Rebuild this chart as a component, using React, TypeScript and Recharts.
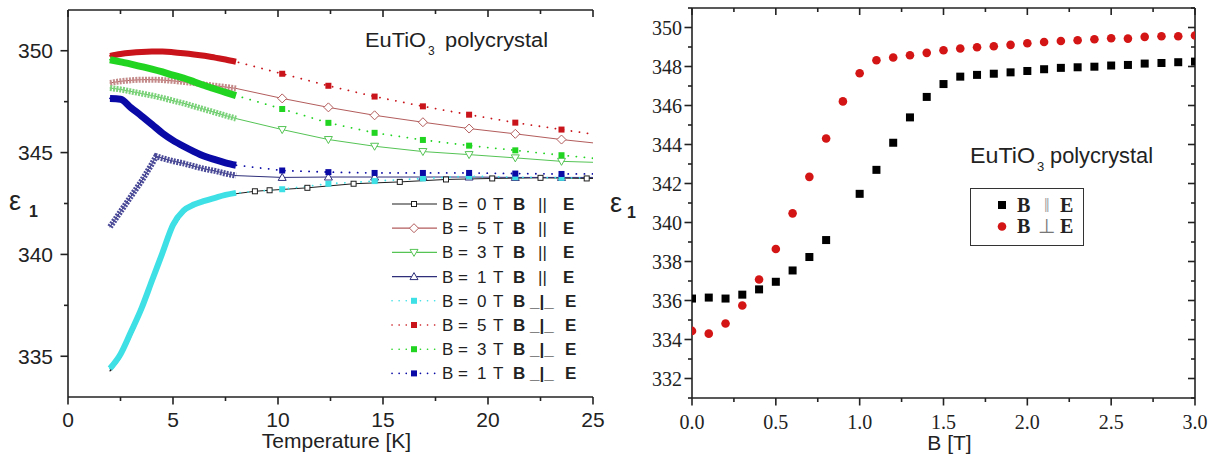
import React from 'react'
import { LineChart, Line, XAxis, YAxis, Legend } from 'recharts'

const SANS = '"Liberation Sans", Arial, sans-serif'
const SERIF = '"Liberation Serif", "Times New Roman", serif'
const INK = '#222'

/* ── left panel: eps1 vs temperature ── */
const tDense = [2, 2.5, 3, 3.5, 4, 4.5, 5, 5.5, 6, 6.5, 7, 7.5, 8]
const tDense1T = [2, 2.5, 3, 3.5, 4, 4.2, 4.5, 5, 5.5, 6, 6.5, 7, 7.5, 8]
const tSparse = [10.2, 12.4, 14.6, 16.9, 19.1, 21.3, 23.5, 25.7]
const tSparse0T = [8.9, 9.6, 11.4, 13.6, 15.8, 18.0, 20.2, 22.5, 24.7, 26.9]

// B || E
const par0Dense = [334.28, 334.95, 336.0, 337.2, 338.55, 339.95, 341.3, 342.05, 342.4, 342.6, 342.75, 342.88, 342.98]
const par0Sparse = [343.1, 343.15, 343.27, 343.47, 343.56, 343.68, 343.73, 343.76, 343.73, 343.72]
const par5Dense = [348.42, 348.5, 348.55, 348.58, 348.58, 348.56, 348.52, 348.47, 348.41, 348.34, 348.28, 348.22, 348.15]
const par5Sparse = [347.66, 347.22, 346.83, 346.49, 346.18, 345.92, 345.64, 345.4]
const par3Dense = [348.17, 348.1, 348.0, 347.9, 347.8, 347.68, 347.55, 347.42, 347.27, 347.12, 346.97, 346.82, 346.67]
const par3Sparse = [346.13, 345.64, 345.31, 345.05, 344.9, 344.74, 344.57, 344.5]
const par1Dense = [341.35, 342.1, 342.85, 343.6, 344.45, 344.82, 344.72, 344.58, 344.47, 344.33, 344.2, 344.1, 343.97, 343.87]
const par1Sparse = [343.78, 343.8, 343.8, 343.8, 343.8, 343.78, 343.78, 343.78]

// B _|_ E
const perp0Dense = [334.4, 335.1, 336.2, 337.35, 338.72, 340.08, 341.45, 342.15, 342.45, 342.63, 342.78, 342.92, 343.02]
const perp0Sparse = [343.2, 343.47, 343.6, 343.73, 343.84, 343.79, 343.76, 343.76]
const perp5Dense = [349.75, 349.84, 349.9, 349.94, 349.96, 349.96, 349.93, 349.88, 349.82, 349.75, 349.66, 349.57, 349.46]
const perp5Sparse = [348.87, 348.28, 347.75, 347.27, 346.86, 346.47, 346.13, 345.8]
const perp3Dense = [349.56, 349.45, 349.34, 349.22, 349.1, 348.96, 348.8, 348.66, 348.48, 348.29, 348.12, 347.96, 347.8]
const perp3Sparse = [347.14, 346.46, 345.97, 345.62, 345.34, 345.11, 344.87, 344.65]
const perp1Dense = [347.66, 347.62, 347.2, 346.8, 346.38, 345.95, 345.6, 345.31, 345.05, 344.82, 344.65, 344.5, 344.38]
const perp1Sparse = [344.12, 344.04, 344.0, 344.0, 344.0, 343.97, 343.95, 343.95]

const tTicks = [0, 2.5, 5, 7.5, 10, 12.5, 15, 17.5, 20, 22.5, 25]
const epsTicksL = [335, 337.5, 340, 342.5, 345, 347.5, 350]

/* ── right panel: eps1 vs field ── */
const bField = [0, 0.1, 0.2, 0.3, 0.4, 0.5, 0.6, 0.7, 0.8, 0.9, 1.0, 1.1, 1.2, 1.3, 1.4, 1.5, 1.6, 1.7, 1.8, 1.9, 2.0, 2.1, 2.2, 2.3, 2.4, 2.5, 2.6, 2.7, 2.8, 2.9, 3.0]
const epsPar = [336.1, 336.15, 336.1, 336.3, 336.57, 336.96, 337.54, 338.23, 339.1, null, 341.47, 342.7, 344.09, 345.39, 346.44, 347.1, 347.48, 347.57, 347.63, 347.7, 347.77, 347.86, 347.93, 347.96, 347.99, 348.05, 348.08, 348.15, 348.18, 348.22, 348.25]
const epsPerp = [334.44, 334.3, 334.82, 335.74, 337.08, 338.64, 340.47, 342.34, 344.31, 346.21, 347.65, 348.32, 348.46, 348.58, 348.7, 348.83, 348.92, 348.99, 349.04, 349.11, 349.19, 349.26, 349.31, 349.35, 349.4, 349.45, 349.43, 349.52, 349.55, 349.55, 349.59]

const bTicks = [0, 0.25, 0.5, 0.75, 1, 1.25, 1.5, 1.75, 2, 2.25, 2.5, 2.75, 3]
const epsTicksR = [331, 332, 333, 334, 335, 336, 337, 338, 339, 340, 341, 342, 343, 344, 345, 346, 347, 348, 349, 350, 351]

const rows = (t: number[], v: number[]) => t.map((x, i) => ({ t: x, v: v[i] }))

type Shape = 'square' | 'diamond' | 'down' | 'up' | 'fill'

const leftSeries = [
  { id: 'par0', field: '0', perp: false, t: tDense, v: par0Dense, ts: tSparse0T, vs: par0Sparse, color: '#1e1e1e', band: '#1e1e1e', bandW: 1.5, hatch: false, marker: 'square' as Shape },
  { id: 'par5', field: '5', perp: false, t: tDense, v: par5Dense, ts: tSparse, vs: par5Sparse, color: '#b35c5c', band: '#c48a8a', bandW: 6, hatch: true, marker: 'diamond' as Shape },
  { id: 'par3', field: '3', perp: false, t: tDense, v: par3Dense, ts: tSparse, vs: par3Sparse, color: '#55c455', band: '#7bd27b', bandW: 6, hatch: true, marker: 'down' as Shape },
  { id: 'par1', field: '1', perp: false, t: tDense1T, v: par1Dense, ts: tSparse, vs: par1Sparse, color: '#2e2e7a', band: '#4a4a98', bandW: 6, hatch: true, marker: 'up' as Shape },
  { id: 'perp0', field: '0', perp: true, t: tDense, v: perp0Dense, ts: tSparse, vs: perp0Sparse, color: '#3ee0e6', band: '#3ee0e6', bandW: 6, hatch: false, marker: 'fill' as Shape },
  { id: 'perp5', field: '5', perp: true, t: tDense, v: perp5Dense, ts: tSparse, vs: perp5Sparse, color: '#c8141a', band: '#c8141a', bandW: 6, hatch: false, marker: 'fill' as Shape },
  { id: 'perp3', field: '3', perp: true, t: tDense, v: perp3Dense, ts: tSparse, vs: perp3Sparse, color: '#22d422', band: '#22d422', bandW: 7, hatch: false, marker: 'fill' as Shape },
  { id: 'perp1', field: '1', perp: true, t: tDense, v: perp1Dense, ts: tSparse, vs: perp1Sparse, color: '#0a0aa6', band: '#0a0aa6', bandW: 7, hatch: false, marker: 'fill' as Shape },
]

function Marker({ shape, cx, cy, color }: { shape: Shape; cx: number; cy: number; color: string }) {
  if (shape === 'fill') return <rect x={cx - 3} y={cy - 3} width={6} height={6} fill={color} />
  if (shape === 'square') return <rect x={cx - 2.5} y={cy - 2.5} width={5} height={5} fill="#fff" stroke={color} strokeWidth={1} />
  if (shape === 'diamond')
    return <polygon points={`${cx},${cy - 4.5} ${cx + 4.5},${cy} ${cx},${cy + 4.5} ${cx - 4.5},${cy}`} fill="#fff" stroke={color} strokeWidth={1} />
  if (shape === 'down')
    return <polygon points={`${cx - 4},${cy - 3} ${cx + 4},${cy - 3} ${cx},${cy + 4}`} fill="#fff" stroke={color} strokeWidth={1} />
  return <polygon points={`${cx - 4},${cy + 3} ${cx + 4},${cy + 3} ${cx},${cy - 4}`} fill="#fff" stroke={color} strokeWidth={1} />
}

/* ── tick: draws (part of) the tick mark from the point recharts hands over, plus the label ── */
function FrameTick(props: any) {
  const x = Number(props.x)
  const y = Number(props.y)
  const v = Number(props.payload?.value)
  const { ext, isMajor, majorLen = 3.5, minorLen = 0, fmt, font, fontSize, gap, shift, side } = props
  const major = isMajor(v)
  const len = major ? majorLen : minorLen
  return (
    <g>
      {len > 0 && (
        <path d={`M${x},${y}L${x + ext[0] * len},${y + ext[1] * len}`} stroke={INK} strokeWidth={1.6} fill="none" />
      )}
      {fmt && major && side === 'left' && (
        <text x={x - gap} y={y + shift} textAnchor="end" fontFamily={font} fontSize={fontSize} fill={INK}>{fmt(v)}</text>
      )}
      {fmt && major && side === 'bottom' && (
        <text x={x} y={y + gap} textAnchor="middle" fontFamily={font} fontSize={fontSize} fill={INK}>{fmt(v)}</text>
      )}
    </g>
  )
}

const axisLine = { stroke: INK, strokeWidth: 1.6 }
const tickLine = { stroke: INK, strokeWidth: 1.6 }
const majorT = (v: number) => v % 5 === 0
const majorB = (v: number) => Math.abs(v * 2 - Math.round(v * 2)) < 1e-6
const majorEpsR = (v: number) => v % 2 === 0

function LeftLegend() {
  return (
    <svg width={215} height={195} style={{ display: 'block' }}>
      {leftSeries.map((s, i) => {
        const cy = 14 + i * 24.2
        return (
          <g key={s.id} fontFamily={SANS} fontSize={17} fill={INK}>
            <line x1={7} x2={52} y1={cy} y2={cy} stroke={s.color} strokeWidth={s.perp ? 1.6 : 1.2}
              strokeDasharray={s.perp ? '0.1 7' : undefined} strokeLinecap={s.perp ? 'round' : 'butt'} />
            <Marker shape={s.marker} cx={29} cy={cy} color={s.color} />
            <text x={57} y={cy + 6}>B</text>
            <text x={73} y={cy + 6}>=</text>
            <text x={92} y={cy + 6}>{s.field}</text>
            <text x={108} y={cy + 6}>T</text>
            <text x={128} y={cy + 6} fontWeight="bold">B</text>
            {s.perp
              ? <text x={145} y={cy + 6} fontWeight="bold">_|_</text>
              : <text x={153} y={cy + 6}>||</text>}
            <text x={s.perp ? 180 : 178} y={cy + 6} fontWeight="bold">E</text>
          </g>
        )
      })}
    </svg>
  )
}

function RightLegend() {
  return (
    <svg width={115} height={60} style={{ display: 'block' }}>
      <rect x={0.5} y={0.5} width={113} height={57} fill="#fff" stroke="#333" strokeWidth={1} />
      <g fontFamily={SERIF} fontSize={20} fontWeight="bold" fill={INK}>
        <rect x={28} y={13} width={8} height={8} fill="#000" />
        <text x={47} y={24}>B</text>
        <text x={74} y={24} fontWeight="normal" fill="#999">‖</text>
        <text x={90} y={24}>E</text>
        <circle cx={32} cy={38.5} r={4.3} fill="#d41515" />
        <text x={47} y={45}>B</text>
        <text x={68} y={45} fontWeight="normal" fill="#777">⊥</text>
        <text x={90} y={45}>E</text>
      </g>
    </svg>
  )
}

const sparseDot = (s: (typeof leftSeries)[number]) => (p: any) =>
  p.payload && p.payload.t > 8.5 && p.cx != null
    ? <Marker key={`${s.id}-${p.index}`} shape={s.marker} cx={p.cx} cy={p.cy} color={s.color} />
    : <g key={`${s.id}-${p.index}`} />

const squareDot = (p: any) =>
  p.value == null || p.cy == null ? <g key={`sq-${p.index}`} /> : <rect key={`sq-${p.index}`} x={p.cx - 4} y={p.cy - 4} width={8} height={8} fill="#000" />
const circleDot = (p: any) =>
  p.value == null || p.cy == null ? <g key={`ci-${p.index}`} /> : <circle key={`ci-${p.index}`} cx={p.cx} cy={p.cy} r={4.3} fill="#d41515" />

export default function App() {
  const rightRows = bField.map((b, i) => ({ b, par: epsPar[i], perp: epsPerp[i] }))
  const fmtInt = (v: number) => String(v)
  const fmtB = (v: number) => v.toFixed(1)

  return (
    <div style={{ position: 'absolute', left: 0, top: 0, width: 1222, height: 454, background: '#fff' }}>
      <div style={{ position: 'absolute', left: 0, top: 0 }}>
        <LineChart width={620} height={454} margin={{ top: 9, right: 27, bottom: 0, left: 0 }}>
          <XAxis xAxisId="b" dataKey="t" type="number" domain={[0, 25]} allowDataOverflow ticks={tTicks} interval={0}
            height={57} tickSize={4} tickMargin={0} axisLine={axisLine} tickLine={tickLine}
            tick={<FrameTick side="bottom" ext={[0, 1]} isMajor={majorT} fmt={fmtInt} font={SANS} fontSize={21} gap={26} />}
            label={{ value: 'Temperature [K]', position: 'insideBottom', offset: 6, dx: 6, style: { fontFamily: SANS, fontSize: 21, fill: INK } }} />
          {/* top frame: inward ticks drawn by FrameTick */}
          <XAxis xAxisId="top" orientation="top" dataKey="t" type="number" domain={[0, 25]} allowDataOverflow ticks={tTicks} interval={0}
            height={1} tickSize={0} tickMargin={0} axisLine={axisLine} tickLine={false}
            tick={<FrameTick side="top" ext={[0, 1]} isMajor={majorT} majorLen={7} minorLen={4} />} />
          <YAxis yAxisId="l" type="number" domain={[333, 352]} allowDataOverflow ticks={epsTicksL} interval={0}
            width={68} tickSize={4} tickMargin={0} axisLine={axisLine} tickLine={tickLine}
            tick={<FrameTick side="left" ext={[-1, 0]} isMajor={majorT} fmt={fmtInt} font={SANS} fontSize={21} gap={11} shift={7.5} />} />
          <YAxis yAxisId="r" orientation="right" type="number" domain={[333, 352]} allowDataOverflow ticks={epsTicksL} interval={0}
            width={0} tickSize={4} tickMargin={0} axisLine={axisLine} tickLine={tickLine}
            tick={<FrameTick side="right" ext={[1, 0]} isMajor={majorT} />} />
          {leftSeries.flatMap((s) => [
            <Line key={`${s.id}-all`} xAxisId="b" yAxisId="l" data={rows([...s.t, ...s.ts], [...s.v, ...s.vs])} dataKey="v"
              type="linear" stroke={s.color} strokeWidth={s.perp ? 1.8 : 1} strokeDasharray={s.perp ? '0.1 8' : undefined}
              strokeLinecap="round" dot={sparseDot(s)} activeDot={false} isAnimationActive={false} />,
            <Line key={`${s.id}-band`} xAxisId="b" yAxisId="l" data={rows(s.t, s.v)} dataKey="v"
              type={s.id === 'par1' ? 'linear' : 'monotone'} stroke={s.band} strokeWidth={s.bandW}
              strokeDasharray={s.hatch ? '2 1.2' : undefined} dot={false} activeDot={false} isAnimationActive={false} />,
          ])}
          <Legend layout="vertical" align="center" verticalAlign="middle" content={<LeftLegend />}
            wrapperStyle={{ left: 385, top: 190, width: 215, height: 195 }} />
        </LineChart>
      </div>

      <div style={{ position: 'absolute', left: 620, top: 0 }}>
        <LineChart width={602} height={454} data={rightRows} margin={{ top: 7, right: 26, bottom: 0, left: 0 }}>
          <XAxis xAxisId="b" dataKey="b" type="number" domain={[0, 3]} allowDataOverflow ticks={bTicks} interval={0}
            height={56} tickSize={4} tickMargin={0} axisLine={axisLine} tickLine={tickLine}
            tick={<FrameTick side="bottom" ext={[0, 1]} isMajor={majorB} fmt={fmtB} font={SERIF} fontSize={20} gap={27} />}
            label={{ value: 'B [T]', position: 'insideBottom', offset: 4, dx: 6, style: { fontFamily: SANS, fontSize: 21, fill: INK } }} />
          <XAxis xAxisId="top" orientation="top" dataKey="b" type="number" domain={[0, 3]} allowDataOverflow ticks={bTicks} interval={0}
            height={1} tickSize={0} tickMargin={0} axisLine={axisLine} tickLine={false}
            tick={<FrameTick side="top" ext={[0, 1]} isMajor={majorB} majorLen={7} minorLen={4} />} />
          <YAxis yAxisId="l" type="number" domain={[331, 351]} allowDataOverflow ticks={epsTicksR} interval={0}
            width={72} tickSize={4} tickMargin={0} axisLine={axisLine} tickLine={tickLine}
            tick={<FrameTick side="left" ext={[-1, 0]} isMajor={majorEpsR} fmt={fmtInt} font={SERIF} fontSize={20} gap={6} shift={7} />} />
          <YAxis yAxisId="r" orientation="right" type="number" domain={[331, 351]} allowDataOverflow ticks={epsTicksR} interval={0}
            width={1} tickSize={0} tickMargin={0} axisLine={axisLine} tickLine={false}
            tick={<FrameTick side="right" ext={[-1, 0]} isMajor={majorEpsR} majorLen={7} minorLen={4} />} />
          <Line xAxisId="b" yAxisId="l" dataKey="par" stroke="none" dot={squareDot} activeDot={false} isAnimationActive={false} />
          <Line xAxisId="b" yAxisId="l" dataKey="perp" stroke="none" dot={circleDot} activeDot={false} isAnimationActive={false} />
          <Legend layout="vertical" align="center" verticalAlign="middle" content={<RightLegend />}
            wrapperStyle={{ left: 350, top: 188, width: 115, height: 60 }} />
        </LineChart>
      </div>

      {/* sample name and eps_1 axis titles */}
      <svg width={1222} height={454} style={{ position: 'absolute', left: 0, top: 0, pointerEvents: 'none' }}>
        <g fontFamily={SANS} fill={INK}>
          <text x={365} y={47} fontSize={19.5} textLength={61} lengthAdjust="spacingAndGlyphs">EuTiO</text>
          <text x={428} y={55} fontSize={12}>3</text>
          <text x={445} y={47} fontSize={19.5} textLength={103} lengthAdjust="spacingAndGlyphs">polycrystal</text>
          <text x={970} y={163} fontSize={21.5} textLength={65} lengthAdjust="spacingAndGlyphs">EuTiO</text>
          <text x={1037} y={171} fontSize={13}>3</text>
          <text x={1050} y={163} fontSize={21.5} textLength={103} lengthAdjust="spacingAndGlyphs">polycrystal</text>
          <text x={9} y={210} fontSize={27}>ε</text>
          <text x={29} y={217} fontSize={16} fontWeight="bold">1</text>
          <text x={610} y={212} fontSize={27}>ε</text>
          <text x={627} y={218} fontSize={16} fontWeight="bold">1</text>
        </g>
      </svg>
    </div>
  )
}
